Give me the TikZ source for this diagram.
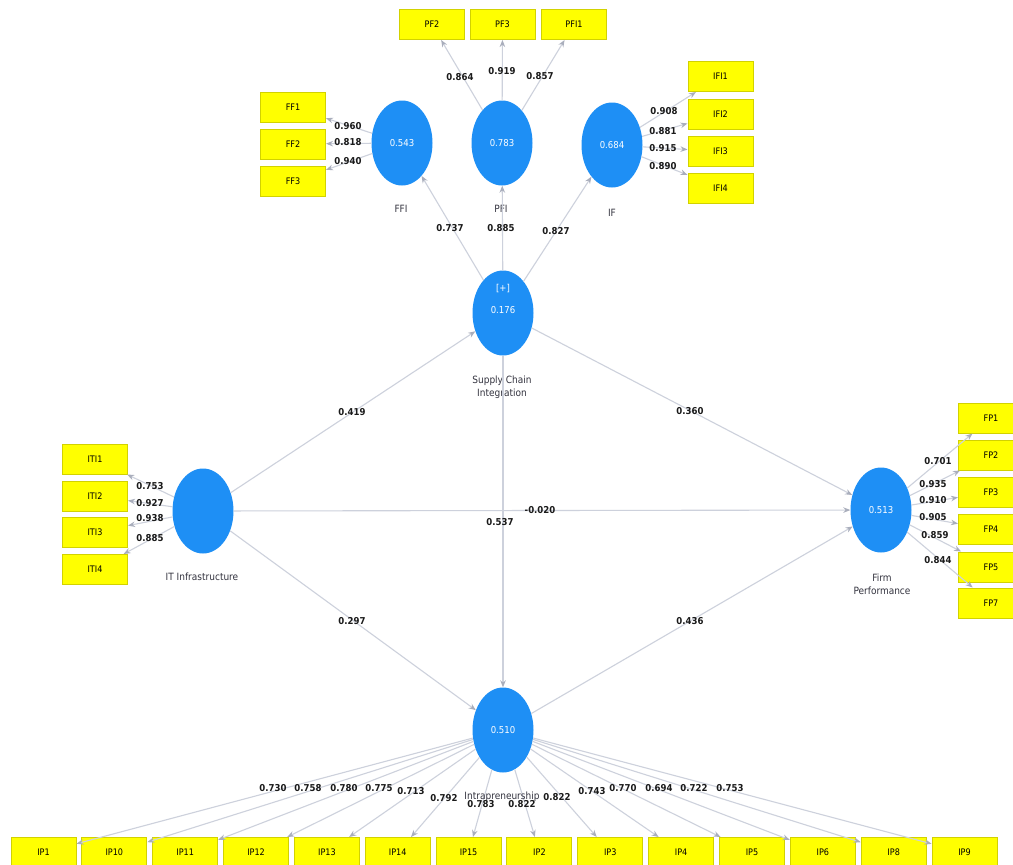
\documentclass[tikz,border=0pt]{standalone}
\usepackage{fontspec}
\usetikzlibrary{shapes.geometric,arrows.meta}
\newfontfamily\cond{DejaVu Sans Condensed}
\definecolor{boxfill}{HTML}{FFFF00}
\definecolor{boxline}{HTML}{D2D200}
\definecolor{latblue}{HTML}{1E8FF5}
\definecolor{linkgray}{HTML}{CDD1DC}
\definecolor{tipgray}{HTML}{A9AEBC}
\definecolor{coefcol}{HTML}{1A1A1A}
\definecolor{namecol}{HTML}{33333F}
\tikzset{
  ind/.style={rectangle, draw=boxline, fill=boxfill, line width=1pt,
    minimum width=65pt, minimum height=30pt, inner sep=0pt,
    font=\cond\fontsize{9}{10}\selectfont, text=black},
  lat/.style={ellipse, fill=latblue, minimum width=61pt, minimum height=85pt,
    inner sep=0pt, text=white, font=\cond\fontsize{9.5}{11}\selectfont},
  lattext/.style={text=white, font=\cond\fontsize{9.5}{11}\selectfont,
    align=center, inner sep=0pt},
  link/.style={draw=linkgray, line width=1.1pt,
    -{Stealth[length=7pt,width=5.5pt,color=tipgray]}},
  coef/.style={font=\cond\bfseries\fontsize{9.5}{11}\selectfont,
    text=coefcol, inner sep=0pt},
  cname/.style={font=\cond\fontsize{10}{11}\selectfont, text=namecol,
    align=center, inner sep=0pt}
}
\begin{document}
\begin{tikzpicture}[x=1pt,y=-1pt]
\useasboundingbox (0,0) rectangle (1013,865);
\clip (0,0) rectangle (1013,865);
\fill[white] (0,0) rectangle (1013,865);

% latent variables
\node[lat] (ffi) at (402,143) {0.543};
\node[lat] (pfi) at (502,143) {0.783};
\node[lat] (if) at (612,145) {0.684};
\node[lat] (sci) at (503,313) {};
\node[lattext] (scival) at (503,299) {[+]\\[11pt]0.176};
\node[lat] (iti) at (203,511) {};
\node[lat] (fp) at (881,510) {0.513};
\node[lat] (ip) at (503,730) {0.510};

% construct names
\node[cname] (nffi) at (401,209) {FFI};
\node[cname] (npfi) at (501,209) {PFI};
\node[cname] (nif) at (612,213) {IF};
\node[cname] (nsci) at (502,387) {Supply Chain\\[2pt]Integration};
\node[cname] (niti) at (202,577) {IT Infrastructure};
\node[cname] (nfp) at (882,584) {Firm\\[2pt]Performance};

% indicators of PFI
\node[ind] (pf2) at (432,24.5) {PF2};
\node[ind] (pf3) at (502.5,24.5) {PF3};
\node[ind] (pfi1) at (574,24.5) {PFI1};
% indicators of FFI
\node[ind] (ff1) at (293,107.5) {FF1};
\node[ind] (ff2) at (293,144) {FF2};
\node[ind] (ff3) at (293,181.5) {FF3};
% indicators of IF
\node[ind] (ifi1) at (720.5,76.5) {IFI1};
\node[ind] (ifi2) at (720.5,114) {IFI2};
\node[ind] (ifi3) at (720.5,151.5) {IFI3};
\node[ind] (ifi4) at (720.5,188) {IFI4};
% indicators of IT Infrastructure
\node[ind] (iti1) at (95,459) {ITI1};
\node[ind] (iti2) at (95,496) {ITI2};
\node[ind] (iti3) at (95,532) {ITI3};
\node[ind] (iti4) at (95,569.5) {ITI4};
% indicators of Firm Performance
\node[ind] (fp1) at (991,418) {FP1};
\node[ind] (fp2) at (991,455) {FP2};
\node[ind] (fp3) at (991,492) {FP3};
\node[ind] (fp4) at (991,529.5) {FP4};
\node[ind] (fp5) at (991,567) {FP5};
\node[ind] (fp7) at (991,603) {FP7};
% indicators of Intrapreneurship
\foreach \n [count=\i from 0] in {IP1,IP10,IP11,IP12,IP13,IP14,IP15,IP2,IP3,IP4,IP5,IP6,IP8,IP9}
  \node[ind] (b\n) at ({43.5+70.85*\i},852.5) {\n};

% outer loadings
\foreach \t in {pf2,pf3,pfi1} \draw[link] (pfi) -- (\t);
\foreach \t in {ff1,ff2,ff3} \draw[link] (ffi) -- (\t);
\foreach \t in {ifi1,ifi2,ifi3,ifi4} \draw[link] (if) -- (\t);
\foreach \t in {iti1,iti2,iti3,iti4} \draw[link] (iti) -- (\t);
\foreach \t in {fp1,fp2,fp3,fp4,fp5,fp7} \draw[link] (fp) -- (\t);
\foreach \n in {IP1,IP10,IP11,IP12,IP13,IP14,IP15,IP2,IP3,IP4,IP5,IP6,IP8,IP9}
  \draw[link] (ip) -- (b\n);

% second-order construct
\draw[link] (sci) -- (ffi);
\draw[link] (sci) -- (pfi);
\draw[link] (sci) -- (if);

% structural paths
\draw[link] (iti) -- (sci);
\draw[link] (iti) -- (fp);
\draw[link] (iti) -- (ip);
\draw[link] (sci) -- (fp);
\draw[link] (sci) -- (ip);
\draw[link] (ip) -- (fp);

% intrapreneurship name (sits among the loadings)
\node[cname] (nip) at (502,797) {Intrapreneurship};

% loading values
\node[coef] (l1) at (460,77) {0.864};
\node[coef] (l2) at (502,71) {0.919};
\node[coef] (l3) at (540,76) {0.857};
\node[coef] (l4) at (348,126) {0.960};
\node[coef] (l5) at (348,142) {0.818};
\node[coef] (l6) at (348,161) {0.940};
\node[coef] (l7) at (664,111) {0.908};
\node[coef] (l8) at (663,131) {0.881};
\node[coef] (l9) at (663,148) {0.915};
\node[coef] (l10) at (663,166) {0.890};
\node[coef] (l11) at (450,228) {0.737};
\node[coef] (l12) at (501,228) {0.885};
\node[coef] (l13) at (556,231) {0.827};
\node[coef] (l14) at (150,486) {0.753};
\node[coef] (l15) at (150,503) {0.927};
\node[coef] (l16) at (150,518) {0.938};
\node[coef] (l17) at (150,538) {0.885};
\node[coef] (l18) at (938,461) {0.701};
\node[coef] (l19) at (933,484) {0.935};
\node[coef] (l20) at (933,500) {0.910};
\node[coef] (l21) at (933,517) {0.905};
\node[coef] (l22) at (935,535) {0.859};
\node[coef] (l23) at (938,560) {0.844};

% path coefficients
\node[coef] (p1) at (352,412) {0.419};
\node[coef] (p2) at (690,411) {0.360};
\node[coef] (p3) at (540,510) {-0.020};
\node[coef] (p4) at (500,522) {0.537};
\node[coef] (p5) at (352,621) {0.297};
\node[coef] (p6) at (690,621) {0.436};

% intrapreneurship loadings
\node[coef] (q1) at (273,788) {0.730};
\node[coef] (q2) at (308,788) {0.758};
\node[coef] (q3) at (344,788) {0.780};
\node[coef] (q4) at (379,788) {0.775};
\node[coef] (q5) at (411,791) {0.713};
\node[coef] (q6) at (444,798) {0.792};
\node[coef] (q7) at (481,804) {0.783};
\node[coef] (q8) at (522,804) {0.822};
\node[coef] (q9) at (557,797) {0.822};
\node[coef] (q10) at (592,791) {0.743};
\node[coef] (q11) at (623,788) {0.770};
\node[coef] (q12) at (659,788) {0.694};
\node[coef] (q13) at (694,788) {0.722};
\node[coef] (q14) at (730,788) {0.753};
\end{tikzpicture}
\end{document}
